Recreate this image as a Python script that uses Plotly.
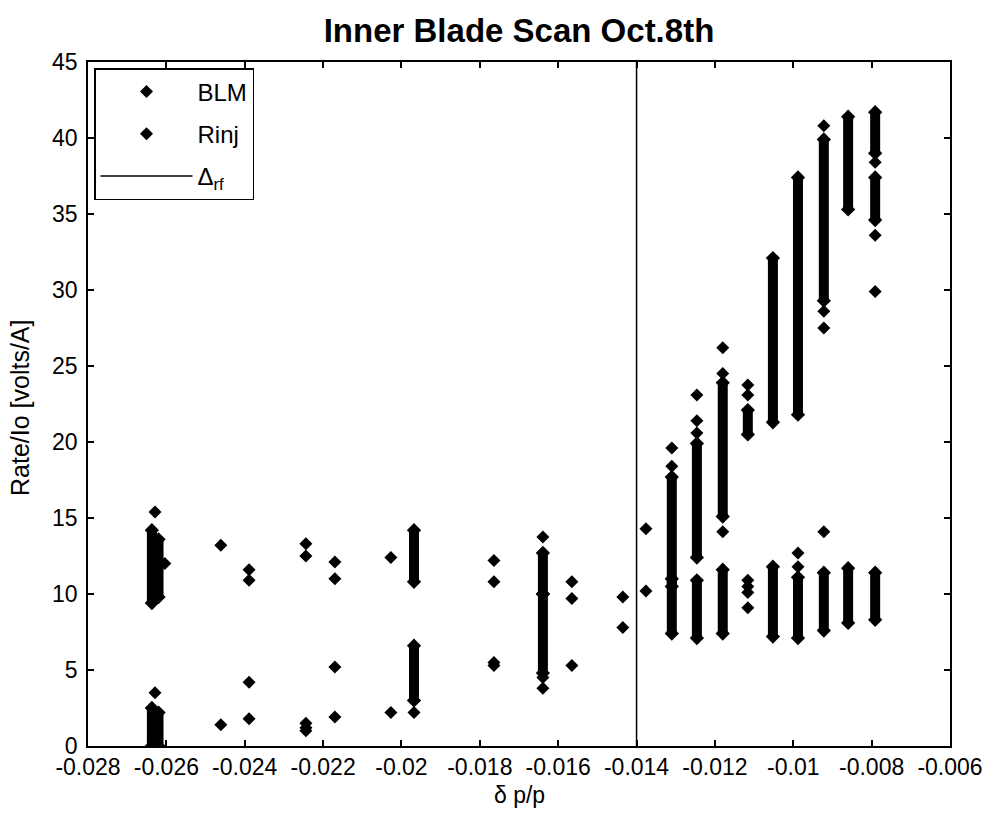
import plotly.graph_objects as go

# ---------------- data ----------------
# isolated BLM points
blm_x = [-0.02629, -0.02461, -0.02389, -0.02389, -0.02244, -0.02244, -0.02244,
         -0.0217, -0.0217, -0.02027, -0.01968, -0.01968, -0.01764, -0.01764,
         -0.01639, -0.01639, -0.01565, -0.01435, -0.01376, -0.0131, -0.0131,
         -0.01246, -0.01246, -0.01246, -0.0118, -0.0118, -0.0118, -0.01116, -0.01116,
         -0.00922, -0.00922, -0.00922, -0.00791, -0.00791, -0.00791]
blm_y = [3.5, 1.4, 4.2, 1.8, 1.5, 1.2, 1.0,
         5.2, 1.9, 2.2, 3.0, 2.2, 5.5, 5.3,
         4.5, 3.8, 5.3, 7.8, 14.3, 19.6, 18.4,
         23.1, 21.4, 20.6, 26.2, 24.5, 14.1, 23.75, 23.1,
         40.8, 28.6, 27.5, 38.4, 33.6, 29.9]
# dense BLM columns: x, lowest and highest value of the stacked points
blm_run_x = [-0.02637, -0.0262, -0.01968, -0.01639, -0.0131, -0.01246, -0.0118,
             -0.01116, -0.01052, -0.00988, -0.00922, -0.0086, -0.00791, -0.00791]
blm_run_lo = [0.0, 0.0, 3.0, 4.8, 10.5, 12.4, 15.1, 20.5, 21.3, 21.8, 29.3, 35.3, 39.0, 34.6]
blm_run_hi = [2.5, 2.2, 6.6, 10.0, 17.7, 19.9, 23.9, 22.1, 32.1, 37.4, 39.9, 41.4, 41.7, 37.4]

# isolated Rinj points
rinj_x = [-0.02629, -0.02604, -0.02461, -0.02389, -0.02389, -0.02244, -0.02244,
          -0.0217, -0.0217, -0.02027, -0.01764, -0.01764, -0.01639, -0.01565, -0.01565,
          -0.01435, -0.01376, -0.01116, -0.01116, -0.01116, -0.01116,
          -0.00988, -0.00988, -0.00922]
rinj_y = [15.4, 12.0, 13.2, 11.6, 10.9, 13.3, 12.5,
          12.1, 11.0, 12.4, 12.2, 10.8, 13.75, 10.8, 9.7,
          9.8, 10.2, 10.9, 10.5, 10.1, 9.1,
          12.7, 11.8, 14.1]
# dense Rinj columns
rinj_run_x = [-0.02637, -0.0262, -0.01968, -0.01639, -0.0131, -0.01246, -0.0118,
              -0.01052, -0.00988, -0.00922, -0.0086, -0.00791]
rinj_run_lo = [9.4, 9.8, 10.8, 10.0, 7.4, 7.1, 7.4, 7.2, 7.1, 7.6, 8.1, 8.3]
rinj_run_hi = [14.2, 13.6, 14.2, 12.7, 11.0, 10.9, 11.6, 11.8, 11.1, 11.4, 11.7, 11.4]

# delta_rf vertical line
rf_x = -0.014
x_range = [-0.028, -0.006]
y_range = [0, 45]

x_ticks = [-0.028, -0.026, -0.024, -0.022, -0.02, -0.018, -0.016, -0.014,
           -0.012, -0.01, -0.008, -0.006]
x_ticktext = ["-0.028", "-0.026", "-0.024", "-0.022", "-0.02", "-0.018", "-0.016",
              "-0.014", "-0.012", "-0.01", "-0.008", "-0.006"]
y_ticks = [0, 5, 10, 15, 20, 25, 30, 35, 40, 45]

FONT = "Liberation Sans, Arial, sans-serif"
MSYM = "diamond"
MSIZE = 10

# plot area in pixels
L, R, T, B = 88, 32, 62, 69
W, H = 982, 815
PW, PH = W - L - R, H - T - B


def run_xy(xs, lo, hi):
    X, Y = [], []
    for x, a, b in zip(xs, lo, hi):
        X += [x, x, None]
        Y += [a, b, None]
    return X, Y


fig = go.Figure()

for name, px, py, rx, rlo, rhi in [
    ("BLM", blm_x, blm_y, blm_run_x, blm_run_lo, blm_run_hi),
    ("Rinj", rinj_x, rinj_y, rinj_run_x, rinj_run_lo, rinj_run_hi),
]:
    X, Y = run_xy(rx, rlo, rhi)
    fig.add_trace(go.Scatter(x=X, y=Y, mode="lines+markers", legendgroup=name,
                             showlegend=False,
                             line=dict(color="black", width=10),
                             marker=dict(symbol=MSYM, size=MSIZE + 1, color="black"),
                             hoverinfo="skip"))
    fig.add_trace(go.Scatter(x=px, y=py, mode="markers", name=name, legendgroup=name,
                             marker=dict(symbol=MSYM, size=MSIZE, color="black")))

fig.add_trace(go.Scatter(x=[rf_x, rf_x], y=y_range, mode="lines",
                         name="Δ<sub>rf</sub>", legendgroup="rf",
                         line=dict(color="black", width=1.5)))

axis_common = dict(showline=True, linecolor="black", linewidth=1.5, mirror="ticks",
                   ticks="inside", ticklen=6, tickcolor="black", tickwidth=1.5,
                   showgrid=False, zeroline=False, automargin=False,
                   ticklabeloverflow="allow",
                   tickfont=dict(family=FONT, size=23, color="black"))

fig.update_layout(
    width=W, height=H,
    margin=dict(l=L, r=R, t=T, b=B),
    paper_bgcolor="white", plot_bgcolor="white",
    title=dict(text="<b>Inner Blade Scan Oct.8th</b>", x=(L + PW / 2) / W, xanchor="center",
               y=1 - 30 / H, yanchor="middle", yref="container",
               font=dict(family=FONT, size=33, color="black")),
    xaxis=dict(range=x_range, tickvals=x_ticks, ticktext=x_ticktext, **axis_common),
    yaxis=dict(range=y_range, tickvals=y_ticks, ticklabelstandoff=4, **axis_common),
    annotations=[
        dict(text="δ p/p", xref="paper", yref="paper", x=0.5, y=(H - B - 795) / PH,
             xanchor="center", yanchor="middle", showarrow=False,
             font=dict(family=FONT, size=23, color="black")),
        dict(text="Rate/Io [volts/A]", xref="paper", yref="paper",
             x=(20 - L) / PW, y=(H - B - 408) / PH, textangle=-90,
             xanchor="center", yanchor="middle", showarrow=False,
             font=dict(family=FONT, size=25, color="black")),
    ],
    showlegend=True,
    legend=dict(x=6 / PW, y=1 - 6 / PH, xanchor="left", yanchor="top",
                bordercolor="black", borderwidth=1.5, bgcolor="white",
                font=dict(family=FONT, size=24, color="black"),
                itemwidth=92, tracegroupgap=8, traceorder="grouped"),
)

fig.write_html("out.html")
